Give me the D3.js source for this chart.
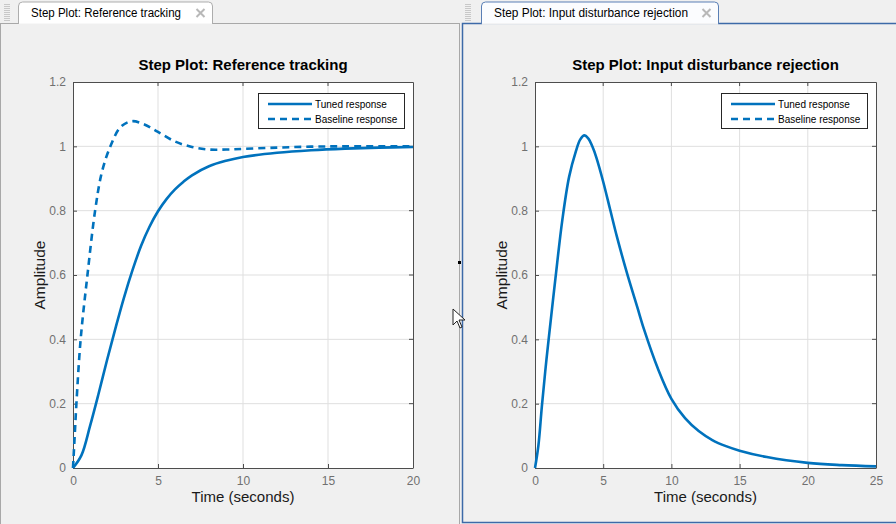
<!DOCTYPE html>
<html>
<head>
<meta charset="utf-8">
<script src="https://cdn.jsdelivr.net/npm/d3@7"></script>
<style>
  html, body { margin: 0; padding: 0; background: #f0f0f0; overflow: hidden; }
  svg { display: block; }
</style>
</head>
<body>
<svg id="chart" width="896" height="524"></svg>
<script>
'use strict';

// step response readings
var tunedTime = [0, 0.5, 1, 1.5, 2, 2.5, 3, 3.5, 4, 4.5, 5, 5.5, 6, 6.5, 7, 8, 9, 10, 12, 14, 16, 18, 20];
var tunedAmp = [0, 0.04, 0.13, 0.23, 0.335, 0.435, 0.53, 0.615, 0.69, 0.75, 0.798, 0.836, 0.866, 0.89, 0.91, 0.938, 0.955, 0.967, 0.98, 0.988, 0.993, 0.996, 0.998];

var baseTime = [0, 0.1, 0.2, 0.45, 0.85, 1.3, 1.7, 2.2, 2.8, 3.45, 4.2, 5, 6, 7, 8, 9, 10, 12, 14, 16, 20];
var baseAmp = [0, 0.1, 0.2, 0.4, 0.6, 0.8, 0.92, 1.0, 1.06, 1.078, 1.068, 1.045, 1.015, 0.998, 0.99, 0.99, 0.992, 0.996, 0.999, 1, 1];

var distTime = [0, 0.25, 0.5, 0.75, 1, 1.5, 2, 2.5, 3, 3.3, 3.6, 3.9, 4.2, 4.5, 5, 5.5, 6, 6.75, 7.5, 8, 9, 10, 11, 12, 13, 14, 15, 17, 20, 22.5, 25];
var distAmp = [0, 0.07, 0.19, 0.3, 0.4, 0.59, 0.77, 0.905, 0.985, 1.02, 1.034, 1.025, 1.0, 0.965, 0.89, 0.805, 0.72, 0.605, 0.5, 0.43, 0.31, 0.215, 0.155, 0.115, 0.087, 0.068, 0.054, 0.034, 0.016, 0.009, 0.005];

var yTicks = [0, 0.2, 0.4, 0.6, 0.8, 1, 1.2];
var xTicksLeft = [0, 5, 10, 15, 20];
var xTicksRight = [0, 5, 10, 15, 20, 25];

var blue = '#0072bd';
var svg = d3.select('#chart');

// ---- window chrome: panels and tabs ----
function tab(x, w, label, textLen, active) {
    var g = svg.append('g');
    var h = 22, r = 4, y = 2;
    g.append('path')
        .attr('d', 'M' + x + ',' + (y + h) + 'V' + (y + r) + 'Q' + x + ',' + y + ' ' + (x + r) + ',' + y +
            'H' + (x + w - r) + 'Q' + (x + w) + ',' + y + ' ' + (x + w) + ',' + (y + r) + 'V' + (y + h))
        .attr('fill', active ? '#fbfcfe' : '#ffffff')
        .attr('stroke', active ? '#5a7fb5' : '#adadad')
        .attr('stroke-width', 1);
    g.append('text')
        .attr('x', x + 12.5).attr('y', 17)
        .attr('font-family', 'Liberation Sans, Arial, sans-serif')
        .attr('font-size', 12.5)
        .attr('textLength', textLen)
        .attr('lengthAdjust', 'spacingAndGlyphs')
        .attr('fill', '#000')
        .text(label);
    // close cross
    var cx = x + w - 12, cy = 13;
    g.append('path')
        .attr('d', 'M' + (cx - 4) + ',' + (cy - 4) + 'L' + (cx + 4) + ',' + (cy + 4) +
            'M' + (cx + 4) + ',' + (cy - 4) + 'L' + (cx - 4) + ',' + (cy + 4))
        .attr('stroke', '#b8b8b8').attr('stroke-width', 2);
}

function grip(x) {
    for (var i = 0; i < 9; i++) {
        svg.append('rect').attr('x', x).attr('y', 4 + i * 2).attr('width', 6).attr('height', 1).attr('fill', '#c8c8c8');
    }
}

// left panel
svg.append('rect').attr('x', 0.5).attr('y', 23.5).attr('width', 459).attr('height', 510)
    .attr('fill', '#f0f0f0').attr('stroke', '#a8a8a8');
grip(4);
tab(18.5, 194, 'Step Plot: Reference tracking', 150, false);
svg.append('line').attr('x1', 19).attr('x2', 212).attr('y1', 24).attr('y2', 24).attr('stroke', '#f0f0f0').attr('stroke-width', 1);

// right panel (active)
svg.append('rect').attr('x', 462.5).attr('y', 23.5).attr('width', 440).attr('height', 499)
    .attr('fill', '#f0f0f0').attr('stroke', '#3d6aa8').attr('stroke-width', 1.5);
grip(465);
tab(481.5, 237, 'Step Plot: Input disturbance rejection', 194, true);
svg.append('line').attr('x1', 482).attr('x2', 718).attr('y1', 24).attr('y2', 24).attr('stroke', '#f0f0f0').attr('stroke-width', 1.5);

// ---- plots ----
function plot(opt) {
    var x = d3.scaleLinear().domain([0, opt.xMax]).range([opt.left, opt.right]);
    var y = d3.scaleLinear().domain([0, 1.2]).range([468, 82]);
    var g = svg.append('g');

    g.append('rect')
        .attr('x', opt.left).attr('y', y(1.2))
        .attr('width', opt.right - opt.left).attr('height', y(0) - y(1.2))
        .attr('fill', '#fff');

    // grid
    g.append('g').selectAll('line').data(opt.xTicks.slice(1, -1)).enter().append('line')
        .attr('x1', function(d) { return x(d); }).attr('x2', function(d) { return x(d); })
        .attr('y1', y(0)).attr('y2', y(1.2))
        .attr('stroke', '#dfdfdf');
    g.append('g').selectAll('line').data(yTicks.slice(1, -1)).enter().append('line')
        .attr('x1', opt.left).attr('x2', opt.right)
        .attr('y1', function(d) { return y(d); }).attr('y2', function(d) { return y(d); })
        .attr('stroke', '#dfdfdf');

    var xAxis = g.append('g').attr('transform', 'translate(0,' + y(0) + ')')
        .call(d3.axisBottom(x).tickValues(opt.xTicks).tickSize(-4).tickPadding(8).tickSizeOuter(0));
    var yAxis = g.append('g').attr('transform', 'translate(' + opt.left + ',0)')
        .call(d3.axisLeft(y).tickValues(yTicks).tickSize(-4).tickPadding(7).tickSizeOuter(0)
            .tickFormat(function(d) { return d3.format('~g')(d); }));
    [xAxis, yAxis].forEach(function(a) {
        a.select('.domain').attr('stroke', '#4d4d4d');
        a.selectAll('.tick line').attr('stroke', '#4d4d4d');
        a.selectAll('.tick text')
            .attr('fill', '#707070')
            .attr('font-family', 'Liberation Sans, Arial, sans-serif')
            .attr('font-size', 12);
    });
    // top and right of the box
    g.append('path')
        .attr('d', 'M' + opt.left + ',' + (y(1.2) + 0.5) + 'H' + (opt.right + 0.5) + 'V' + y(0))
        .attr('fill', 'none').attr('stroke', '#4d4d4d');
    g.append('g').selectAll('line').data(opt.xTicks.slice(1, -1)).enter().append('line')
        .attr('x1', function(d) { return x(d); }).attr('x2', function(d) { return x(d); })
        .attr('y1', y(1.2)).attr('y2', y(1.2) + 4).attr('stroke', '#4d4d4d');
    g.append('g').selectAll('line').data(yTicks.slice(1, -1)).enter().append('line')
        .attr('x1', opt.right - 4).attr('x2', opt.right)
        .attr('y1', function(d) { return y(d); }).attr('y2', function(d) { return y(d); })
        .attr('stroke', '#4d4d4d');

    var mid = (opt.left + opt.right) / 2;
    g.append('text').attr('x', mid).attr('y', 70)
        .attr('text-anchor', 'middle')
        .attr('font-family', 'Liberation Sans, Arial, sans-serif')
        .attr('font-weight', 'bold').attr('font-size', 15)
        .attr('fill', '#000')
        .text(opt.title);
    g.append('text').attr('x', mid).attr('y', 502)
        .attr('text-anchor', 'middle')
        .attr('font-family', 'Liberation Sans, Arial, sans-serif')
        .attr('font-size', 15).attr('fill', '#1a1a1a')
        .text('Time (seconds)');
    g.append('text')
        .attr('transform', 'translate(' + (opt.left - 28) + ',' + y(0.6) + ') rotate(-90)')
        .attr('text-anchor', 'middle')
        .attr('font-family', 'Liberation Sans, Arial, sans-serif')
        .attr('font-size', 15.5).attr('fill', '#1a1a1a')
        .text('Amplitude');

    var line = d3.line()
        .x(function(d) { return x(d[0]); })
        .y(function(d) { return y(d[1]); })
        .curve(d3.curveCatmullRom.alpha(0.5));

    opt.series.forEach(function(s) {
        g.append('path')
            .datum(d3.zip(s.time, s.amp))
            .attr('d', line)
            .attr('fill', 'none')
            .attr('stroke', blue)
            .attr('stroke-width', 2.6)
            .attr('stroke-dasharray', s.dashed ? '7,5' : null);
    });

    // legend
    var lx = opt.right - 155, ly = 93;
    var leg = g.append('g');
    leg.append('rect').attr('x', lx + 0.5).attr('y', ly + 0.5).attr('width', 146).attr('height', 35)
        .attr('fill', '#fff').attr('stroke', '#262626');
    [['Tuned response', null], ['Baseline response', '7,5']].forEach(function(e, i) {
        var yy = ly + 11 + i * 15;
        leg.append('line').attr('x1', lx + 10).attr('x2', lx + 54).attr('y1', yy).attr('y2', yy)
            .attr('stroke', blue).attr('stroke-width', 2.6).attr('stroke-dasharray', e[1]);
        leg.append('text').attr('x', lx + 57).attr('y', yy + 3.5)
            .attr('font-family', 'Liberation Sans, Arial, sans-serif')
            .attr('font-size', 10).attr('fill', '#000')
            .text(e[0]);
    });
}

plot({
    left: 73, right: 413, xMax: 20, xTicks: xTicksLeft,
    title: 'Step Plot: Reference tracking',
    series: [
        { time: tunedTime, amp: tunedAmp, dashed: false },
        { time: baseTime, amp: baseAmp, dashed: true }
    ]
});

plot({
    left: 535, right: 876, xMax: 25, xTicks: xTicksRight,
    title: 'Step Plot: Input disturbance rejection',
    series: [
        { time: distTime, amp: distAmp, dashed: false }
    ]
});

// stray marks from the screenshot: splitter dot and mouse pointer
svg.append('rect').attr('x', 458).attr('y', 261).attr('width', 3).attr('height', 3).attr('fill', '#000');
svg.append('path')
    .attr('d', 'M453,309 L453,325 L457,321 L460,328 L462,327 L459,320 L465,320 Z')
    .attr('fill', '#fff').attr('stroke', '#222').attr('stroke-width', 1);
</script>
</body>
</html>
